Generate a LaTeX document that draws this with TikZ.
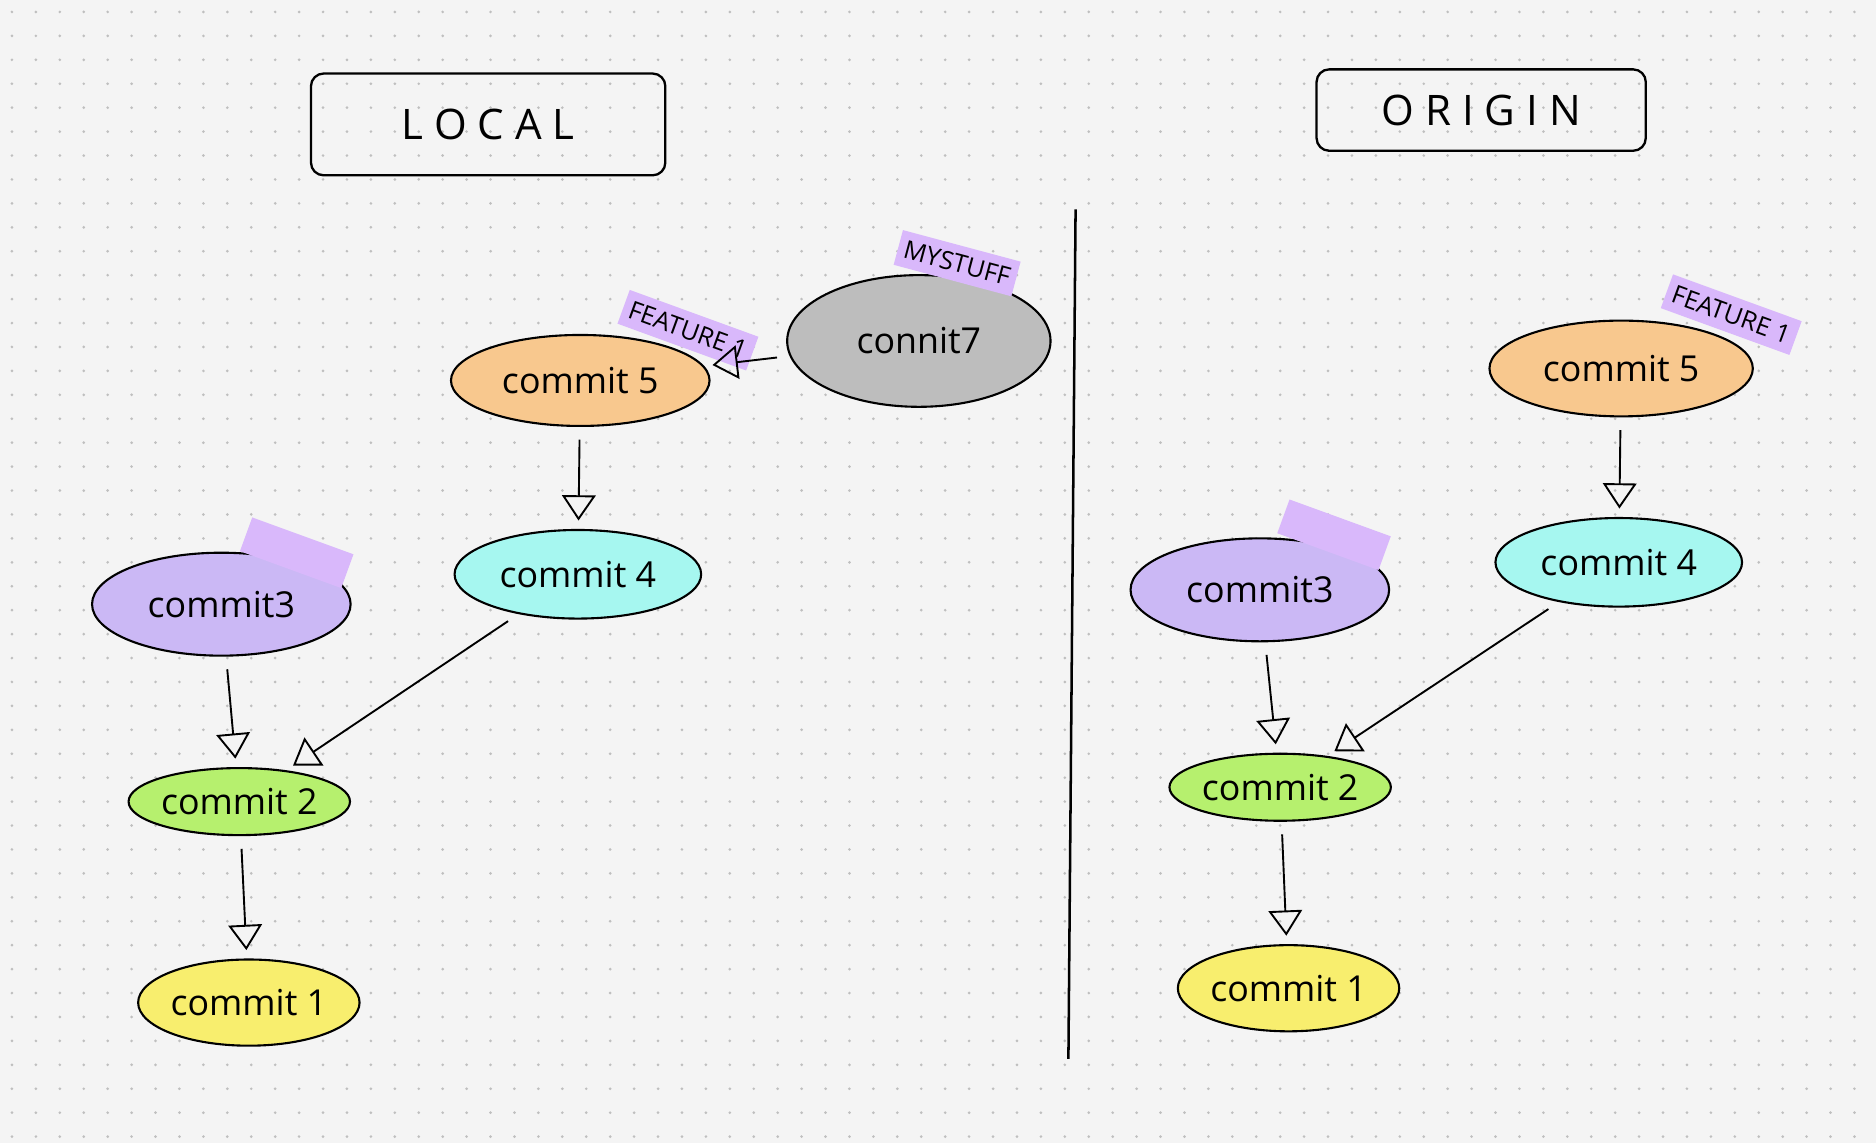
\documentclass[tikz,border=0pt]{standalone}
\usepackage{fontspec}
\setmainfont{Open Sans}
\usetikzlibrary{arrows.meta,shapes.geometric}
\definecolor{bg}{HTML}{F4F4F4}
\definecolor{cgray}{HTML}{BDBDBD}
\definecolor{corange}{HTML}{F8C88E}
\definecolor{ccyan}{HTML}{A6F7F0}
\definecolor{cpurple}{HTML}{CBB8F5}
\definecolor{cgreen}{HTML}{B6F06E}
\definecolor{cyellow}{HTML}{F8EE6E}
\definecolor{ctag}{HTML}{D9B8FB}
\begin{document}
\begin{tikzpicture}[x=0.01cm,y=-0.01cm,
  commit/.style={ellipse,draw=black,line width=0.5pt,inner sep=0pt,font=\fontsize{8.5}{9}\selectfont},
  tag/.style={fill=ctag,inner sep=1.5pt,font=\fontsize{6}{6}\selectfont,minimum height=0.3cm},
  arr/.style={-{Triangle[open,length=6pt,width=8pt]},line width=0.45pt,shorten <=3pt,shorten >=2pt},
  box/.style={draw=black,line width=0.55pt,rounded corners=3pt,font=\fontsize{10}{10}\selectfont,align=center}]
\fill[bg] (0,0) rectangle (1568,955);
\useasboundingbox (0,0) rectangle (1568,955);
\foreach \x in {10,30,...,1560}{\foreach \y in {10,30,...,950}{\fill[black!25] (\x,\y) circle (0.35pt);}}
% headers
\node[box,minimum width=2.96cm,minimum height=0.85cm] (local) at (408,104) {L O C A L};
\node[box,minimum width=2.75cm,minimum height=0.68cm] (origin) at (1238,92) {O R I G I N};
\coordinate (vt) at (899,175); \coordinate (vb) at (893,885);
\draw[line width=0.6pt] (vt) -- (vb);
% local
\node[commit,fill=cgray,minimum width=2.2cm,minimum height=1.1cm] (l7) at (768,285) {connit7};
\node[tag,rotate=-15] (t7) at (800,220) {MYSTUFF};
\node[commit,fill=corange,minimum width=2.16cm,minimum height=0.76cm] (l5) at (485,318) {commit 5};
\node[tag,rotate=-20] (t5) at (575,276) {FEATURE 1};
\node[commit,fill=ccyan,minimum width=2.06cm,minimum height=0.74cm] (l4) at (483,480) {commit 4};
\node[commit,fill=cpurple,minimum width=2.16cm,minimum height=0.86cm] (l3) at (185,505) {commit3};
\node[tag,rotate=-20,minimum width=0.9cm] (t3) at (248,462) {};
\node[commit,fill=cgreen,minimum width=1.8cm,minimum height=0.56cm] (l2) at (200,670) {commit 2};
\node[commit,fill=cyellow,minimum width=1.6cm,minimum height=0.72cm] (l1) at (208,838) {commit 1};
\draw[arr] (l7) -- (l5);
\draw[arr] (l5) -- (l4);
\draw[arr] (l4) -- (l2);
\draw[arr] (l3) -- (l2);
\draw[arr] (l2) -- (l1);
% origin
\node[commit,fill=corange,minimum width=2.2cm,minimum height=0.8cm] (o5) at (1355,308) {commit 5};
\node[tag,rotate=-20] (ot5) at (1447,263) {FEATURE 1};
\node[commit,fill=ccyan,minimum width=2.06cm,minimum height=0.74cm] (o4) at (1353,470) {commit 4};
\node[commit,fill=cpurple,minimum width=2.16cm,minimum height=0.86cm] (o3) at (1053,493) {commit3};
\node[tag,rotate=-20,minimum width=0.9cm] (ot3) at (1115,447) {};
\node[commit,fill=cgreen,minimum width=1.8cm,minimum height=0.56cm] (o2) at (1070,658) {commit 2};
\node[commit,fill=cyellow,minimum width=1.6cm,minimum height=0.72cm] (o1) at (1077,826) {commit 1};
\draw[arr] (o5) -- (o4);
\draw[arr] (o4) -- (o2);
\draw[arr] (o3) -- (o2);
\draw[arr] (o2) -- (o1);
\end{tikzpicture}
\end{document}
